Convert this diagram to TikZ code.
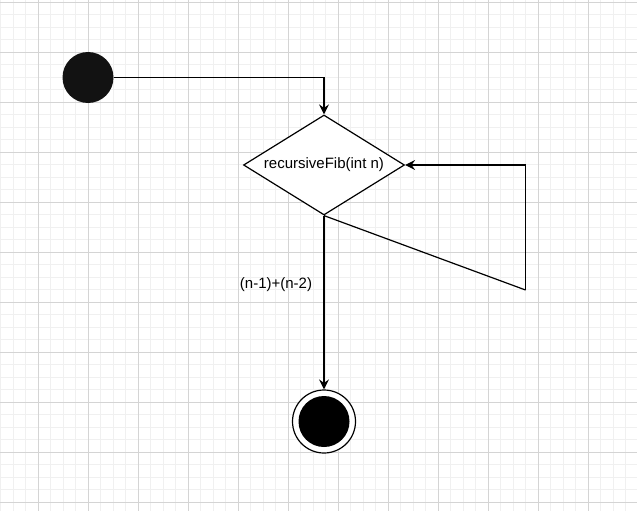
\documentclass[tikz,border=0pt]{standalone}
\usepackage{fontspec}
\setmainfont{Liberation Sans}
\usetikzlibrary{shapes.geometric,arrows.meta}

\tikzset{
  minorgrid/.style = {draw=black!6, line width=0.8pt},
  majorgrid/.style = {draw=black!17, line width=0.8pt},
  flow/.style = {line width=1.2pt, -{Stealth[length=10pt, width=10pt, inset=3.5pt]}},
  plain/.style = {line width=1.2pt}
}

\begin{document}
\begin{tikzpicture} [x = 1pt, y = -1pt, font = \fontsize{15pt}{18pt}\selectfont]
\useasboundingbox (0, 0) rectangle (637, 511);
\fill[white] (0, 0) rectangle (637, 511);
% grid
\foreach \x in {0.5, 13, ..., 637} \draw[minorgrid] (\x, 0) -- (\x, 511);
\foreach \y in {2, 14.5, ..., 511} \draw[minorgrid] (0, \y) -- (637, \y);
\foreach \x in {38, 88, ..., 637} \draw[majorgrid] (\x, 0) -- (\x, 511);
\foreach \y in {2, 52, ..., 511} \draw[majorgrid] (0, \y) -- (637, \y);

% states
\node[circle, fill = black!93, minimum size = 51pt, inner sep = 0] (start) at (88, 77.5) {};
\node[diamond, draw, line width = 1.2pt, fill = white, aspect = 1.61, inner sep = 0,
      minimum width = 161pt, minimum height = 100pt] (fib) at (324, 165) {recursiveFib(int n)};
\node[circle, draw, line width = 1.2pt, fill = white, minimum size = 63pt, inner sep = 0] (stop) at (324, 421.5) {};
\node[circle, fill = black, minimum size = 51pt, inner sep = 0] (stopdot) at (stop) {};
\coordinate (loop) at (525.5, 290);
\node (sum) at (276, 285) {(n-1)+(n-2)};

% transitions
\draw[flow] (start.east) -| (fib.north);
\draw[flow] (fib.south) -- (stop.north);
\draw[plain] (fib.south) -- (loop);
\draw[flow] (loop) |- (fib.east);
\end{tikzpicture}
\end{document}
